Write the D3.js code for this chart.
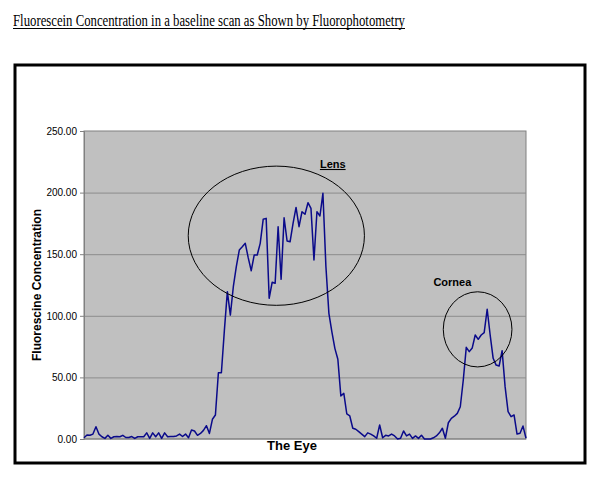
<!DOCTYPE html>
<html>
<head>
<meta charset="utf-8">
<script src="https://cdn.jsdelivr.net/npm/d3@7"></script>
<style>
  body { margin: 0; background: #fff; }
  text { font-family: Arial, "Liberation Sans", sans-serif; }
</style>
</head>
<body>
<svg id="chart" width="600" height="479"></svg>
<script>
// values, one per sample position along the eye
var concentration = [
    1, 3.2, 3, 4, 10, 4, 1.8, 0.5, 3, 0.5,
    1.8, 2, 1.8, 3, 1.2, 1.2, 2, 0.5, 1.8, 1.8,
    1.8, 5, 0.5, 5, 1.8, 5, 0.5, 5, 1.8, 2,
    2, 2.5, 4, 2, 4, 1, 7.3, 6.5, 3, 4.5,
    7, 10.8, 4.5, 16, 19.5, 53.8, 53.8, 88, 119.6, 100.6,
    123.6, 140, 153.4, 156, 158.8, 147, 136.6, 149.4, 149.4, 158.8,
    178.3, 179.1, 114.2, 127.2, 126.4, 172.3, 129.6, 179.6, 160.7, 160.1,
    175, 188, 172.3, 184.5, 182.4, 191.8, 187.2, 145.3, 184.5, 181,
    199.4, 140, 102, 87, 73.6, 64.7, 35, 37, 20.3, 18.7,
    8.7, 7.9, 6, 4, 1.9, 5, 4, 2.5, 0.6, 11.4,
    1, 3, 2.5, 4, 2.5, 0, 0.6, 6.5, 2.5, 4,
    0.5, 2.5, 0.5, 3, 0, 0, 0, 1, 2.5, 5,
    8.7, 0.6, 13.2, 16.8, 18.5, 20.8, 26.2, 47.9, 74.4, 70.9,
    73.9, 84.4, 80.9, 84.4, 86.3, 105.3, 84.4, 65.5, 60, 59.2,
    71.7, 42.5, 22.2, 18.1, 19.5, 4, 4.6, 10.5, 0.6
];
var yTicks = [0, 50, 100, 150, 200, 250];
var chartTitle = "Fluorescein Concentration in a baseline scan as Shown by Fluorophotometry";
var xTitle = "The Eye";
var yTitle = "Fluorescine Concentration";

// annotation rings, in sample index / concentration units
var rings = [
    {name: "Lens", cx: 64.4, cy: 165, rx: 29.5, ry: 56.5, lx: 79, ly: 220, underline: true},
    {name: "Cornea", cx: 131.8, cy: 89, rx: 11.5, ry: 30.5, lx: 117, ly: 124, underline: false}
];

var svg = d3.select("#chart");
var plotLeft = 84, plotRight = 526, plotTop = 131, plotBottom = 439;

var x = d3.scaleLinear().domain([0, concentration.length - 1]).range([plotLeft, plotRight]);
var y = d3.scaleLinear().domain([0, 250]).range([plotBottom, plotTop]);

// page title
svg.append("text")
    .attr("x", 13)
    .attr("y", 26)
    .attr("textLength", 392)
    .attr("lengthAdjust", "spacingAndGlyphs")
    .style("font-family", "'Liberation Serif', 'Times New Roman', serif")
    .style("font-size", "16px")
    .attr("fill", "#000")
    .text(chartTitle);
svg.append("line")
    .attr("x1", 13).attr("x2", 405)
    .attr("y1", 28.5).attr("y2", 28.5)
    .attr("stroke", "#000").attr("stroke-width", 1);

// outer frame
svg.append("rect")
    .attr("x", 15).attr("y", 65)
    .attr("width", 570).attr("height", 398)
    .attr("fill", "none")
    .attr("stroke", "#000")
    .attr("stroke-width", 3);

// plot area
svg.append("rect")
    .attr("x", plotLeft).attr("y", plotTop)
    .attr("width", plotRight - plotLeft).attr("height", plotBottom - plotTop)
    .attr("fill", "#c0c0c0")
    .attr("stroke", "#808080")
    .attr("stroke-width", 1);

svg.append("g")
    .attr("transform", `translate(${plotLeft},0)`)
    .call(d3.axisLeft(y).tickValues(yTicks.slice(1, -1)).tickSize(-(plotRight - plotLeft)).tickFormat(""))
    .call(g => g.select(".domain").remove())
    .selectAll("line")
    .attr("stroke", "#8c8c8c");

var yAxis = svg.append("g")
    .attr("transform", `translate(${plotLeft},0)`)
    .call(d3.axisLeft(y).tickValues(yTicks).tickSize(4).tickPadding(3).tickFormat(d3.format(".2f")));
yAxis.select(".domain").attr("stroke", "#808080");
yAxis.selectAll("line").attr("stroke", "#808080");
yAxis.selectAll("text")
    .style("font-size", "10px")
    .attr("fill", "#000");

svg.append("line")
    .attr("x1", plotLeft).attr("x2", plotRight)
    .attr("y1", plotBottom).attr("y2", plotBottom)
    .attr("stroke", "#808080");

// the scan
var line = d3.line()
    .x((d, i) => x(i))
    .y(d => y(d));

svg.append("path")
    .datum(concentration)
    .attr("d", line)
    .attr("fill", "none")
    .attr("stroke", "#0a0a8a")
    .attr("stroke-width", 1.5)
    .attr("stroke-linejoin", "round");

// rings and their labels
svg.selectAll("ellipse")
    .data(rings)
    .enter()
    .append("ellipse")
    .attr("cx", d => x(d.cx))
    .attr("cy", d => y(d.cy))
    .attr("rx", d => x(d.rx) - x(0))
    .attr("ry", d => y(0) - y(d.ry))
    .attr("fill", "none")
    .attr("stroke", "#000")
    .attr("stroke-width", 1);

svg.selectAll(".ringLabel")
    .data(rings)
    .enter()
    .append("text")
    .attr("class", "ringLabel")
    .attr("x", d => x(d.lx))
    .attr("y", d => y(d.ly))
    .style("font-size", "11px")
    .style("font-weight", "bold")
    .style("text-decoration", d => d.underline ? "underline" : "none")
    .text(d => d.name);

// axis titles
svg.append("text")
    .attr("x", (plotLeft + plotRight) / 2 - 13)
    .attr("y", 449.5)
    .attr("text-anchor", "middle")
    .style("font-size", "13px")
    .style("font-weight", "bold")
    .text(xTitle);

svg.append("text")
    .attr("transform", `translate(41, ${(plotTop + plotBottom) / 2}) rotate(-90)`)
    .attr("text-anchor", "middle")
    .style("font-size", "12px")
    .style("font-weight", "bold")
    .text(yTitle);
</script>
</body>
</html>
